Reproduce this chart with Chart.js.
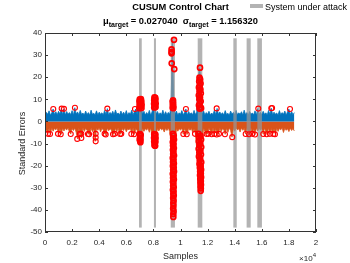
<!DOCTYPE html>
<html>
<head>
<meta charset="utf-8">
<script src="https://cdn.jsdelivr.net/npm/chart.js@4.4.1/dist/chart.umd.min.js"></script>
<style>
html, body { margin: 0; padding: 0; background: #fff; }
</style>
</head>
<body>
<canvas id="cusum" width="350" height="263"></canvas>
<script>
// Parametros objetivo
const muTarget = 0.027040;
const sigmaTarget = 1.156320;

// Muestras cada 100 (0 .. 18400)
const sampleStep = 100;

// CUSUM superior (envolvente)
const cusumUpper = [
    2.9, 4.1, 3.2, 4.8, 2.8, 3.9, 5.6, 3.1, 4.4, 3.0,
    4.6, 3.3, 5.8, 3.0, 5.7, 2.9, 4.5, 3.2, 4.0, 3.1,
    4.9, 2.8, 6.2, 3.3, 4.3, 3.0, 5.0, 3.2, 3.8, 2.9,
    4.7, 3.1, 4.0, 2.8, 5.1, 3.2, 3.7, 3.0, 4.8, 2.9,
    4.2, 3.3, 3.9, 2.9, 5.0, 3.1, 5.8, 2.8, 4.1, 3.2,
    4.6, 3.0, 5.2, 3.3, 3.8, 2.9, 4.7, 3.1, 4.2, 3.0,
    4.9, 2.8, 4.0, 3.2, 5.1, 3.0, 4.4, 5.6, 3.1, 8.2,
    10.4, 7.5, 3.2, 4.6, 2.9, 4.0, 3.1, 5.0, 2.8, 4.3,
    9.0, 11.0, 3.2, 4.5, 3.0, 3.9, 3.1, 5.1, 2.9, 4.4,
    3.0, 4.1, 3.2, 6.4, 36.8, 9.5, 3.1, 4.7, 2.9, 3.9,
    3.2, 4.9, 3.0, 4.0, 5.6, 2.8, 4.5, 3.3, 3.9, 3.0,
    5.0, 3.1, 4.2, 18.5, 24.3, 19.6, 3.0, 4.8, 2.9, 4.0,
    3.2, 4.6, 2.9, 3.8, 3.1, 5.1, 3.0, 5.9, 3.2, 4.3,
    3.3, 3.9, 2.9, 4.9, 3.1, 3.7, 2.8, 4.7, 3.2, 4.1,
    3.0, 5.0, 3.1, 3.9, 3.2, 4.4, 2.9, 5.1, 3.1, 4.0,
    2.9, 4.5, 3.3, 3.8, 3.0, 4.8, 2.8, 5.8, 3.1, 4.1,
    3.0, 4.6, 3.2, 3.9, 2.9, 5.0, 3.1, 6.0, 3.0, 4.2,
    3.3, 3.8, 2.9, 4.9, 3.0, 4.0, 3.2, 4.7, 2.8, 4.4,
    5.6, 3.1, 4.5, 3.0, 4.0
];

// CUSUM inferior (envolvente)
const cusumLower = [
    -3.0, -4.0, -5.6, -3.1, -5.7, -2.9, -4.4, -3.2, -3.8, -3.0,
    -5.6, -3.2, -5.8, -3.0, -4.3, -3.1, -3.9, -2.9, -4.7, -5.7,
    -3.2, -4.1, -3.0, -4.9, -7.9, -3.1, -5.6, -7.5, -2.9, -4.5,
    -3.2, -3.9, -5.7, -5.8, -3.0, -4.6, -3.3, -9.0, -3.1, -4.0,
    -2.9, -4.8, -3.2, -3.8, -5.6, -5.9, -3.0, -4.2, -3.3, -3.9,
    -5.8, -5.6, -3.1, -4.6, -2.9, -5.7, -5.6, -3.2, -4.1, -3.0,
    -4.7, -3.3, -3.8, -3.1, -5.7, -2.9, -5.8, -3.2, -4.0, -9.5,
    -10.4, -8.0, -3.0, -4.5, -3.3, -3.9, -3.1, -4.9, -2.9, -7.2,
    -10.8, -11.0, -6.5, -3.2, -4.3, -3.0, -3.8, -3.3, -4.8, -3.1,
    -4.1, -2.9, -4.6, -9.0, -36.0, -43.2, -12.0, -3.1, -4.4, -3.3,
    -3.9, -3.0, -5.7, -3.2, -4.7, -5.8, -2.9, -4.0, -3.1, -5.0,
    -3.3, -5.6, -12.5, -20.0, -27.5, -31.6, -10.0, -3.0, -4.5, -5.7,
    -5.6, -3.1, -4.2, -5.8, -2.9, -5.7, -3.2, -5.9, -5.6, -3.0,
    -4.6, -3.3, -3.8, -5.8, -3.1, -4.9, -2.9, -4.1, -7.1, -3.2,
    -4.4, -3.0, -3.7, -3.3, -4.8, -2.9, -4.0, -3.1, -5.7, -3.2,
    -4.5, -5.8, -3.0, -5.6, -3.3, -5.9, -2.9, -4.3, -3.1, -3.9,
    -3.2, -5.7, -3.0, -4.7, -5.8, -2.9, -5.6, -3.1, -5.7, -3.3,
    -5.8, -3.0, -4.5, -3.2, -3.8, -2.9, -5.0, -3.1, -4.0, -3.3,
    -4.6, -3.0, -4.1, -3.2, -4.3
];

// Puntos fuera de control (fuera de los ataques)
const alarmUpX = [610, 1230, 1400, 2210, 4600, 6640, 10400, 12670, 15740, 16700, 16760, 18080];
const alarmUpY = [5.6, 5.8, 5.7, 6.2, 5.8, 5.6, 5.6, 5.9, 5.8, 6.0, 6.1, 5.6];
const alarmLowX = [221, 369, 960, 1160, 1900, 2380, 2580, 2680, 2680, 3170, 3250, 3740, 3740, 3740,
    4400, 4480, 5020, 5140, 5540, 5630, 6370, 6570, 10210, 10460, 11070, 11930, 12050, 12300,
    12500, 12670, 12840, 13280, 13820, 14810, 15060, 15300, 15500, 16110, 16360, 16600, 16850, 16970];
const alarmLowY = [-5.6, -5.7, -5.6, -5.8, -5.7, -7.9, -5.6, -5.6, -7.5, -5.7, -5.8, -5.6, -7.3, -9.0,
    -5.6, -5.9, -5.8, -5.6, -5.7, -5.6, -5.7, -5.8, -5.7, -5.8, -5.6, -5.7, -5.6, -5.8,
    -5.7, -5.9, -5.6, -5.8, -7.1, -5.7, -5.8, -5.6, -5.9, -5.7, -5.8, -5.6, -5.7, -5.8];

// Puntos fuera de control durante los ataques
const attackUpX = [
    6960, 7120, 7040, 6980, 7130, 7060, 6970, 7110, 7030, 7080, 6990,
    8060, 8160, 8100, 8050, 8170, 8110, 8060, 8150, 8100, 8080, 8140,
    9520, 9340, 9340, 9340, 9350, 9540, 9420, 9470, 9430, 9460, 9420, 9450, 9470,
    11440, 11400, 11450, 11380, 11480, 11420, 11360, 11470, 11400, 11500, 11350, 11440, 11390,
    11490, 11420, 11360, 11470, 11400, 11520
];
const attackUpY = [
    6.0, 6.1, 6.8, 7.5, 7.6, 8.3, 9.0, 9.1, 9.6, 10.1, 10.0,
    6.3, 6.5, 7.2, 8.0, 8.1, 8.9, 9.6, 9.8, 10.5, 10.9, 10.7,
    36.9, 32.6, 31.5, 30.8, 26.3, 23.7, 6.2, 6.9, 7.6, 8.3, 9.0, 9.5, 6.0,
    24.3, 19.8, 19.0, 18.1, 17.2, 16.3, 15.4, 14.5, 13.6, 12.7, 11.8, 10.9, 10.0,
    9.1, 8.2, 7.3, 6.4, 5.8, 6.0
];
const attackLowX = [
    7000, 7040, 7010, 7050, 7020, 7040, 7060, 6990,
    8060, 8150, 8100, 8050, 8160, 8110, 8060, 8150, 8100, 8080, 8130,
    9440, 9500, 9460, 9520, 9430, 9490, 9450, 9510, 9440, 9480, 9460, 9520, 9430, 9490, 9450, 9510,
    9440, 9500, 9460, 9520, 9430, 9490, 9450, 9510, 9440, 9480, 9460, 9500, 9440, 9490, 9470, 9500,
    9460, 9490, 9470, 9480, 9460, 9490, 9470, 9470,
    11330, 11480, 11380, 11520, 11350, 11460, 11400, 11530, 11340, 11470, 11390, 11510, 11360, 11450,
    11420, 11530, 11400, 11490, 11430, 11520, 11450, 11500, 11440, 11520, 11460, 11500, 11470, 11510,
    11480, 11500, 11490
];
const attackLowY = [
    -5.7, -6.5, -7.3, -8.0, -8.7, -9.4, -6.0, -8.2,
    -5.7, -5.9, -6.6, -7.4, -7.5, -8.3, -9.1, -9.2, -10.0, -10.8, -11.0,
    -5.6, -6.4, -7.5, -8.2, -9.3, -10.1, -10.9, -12.0, -12.8, -13.6, -14.7, -15.4, -16.5, -17.2, -18.3, -19.0,
    -20.1, -20.8, -21.9, -22.6, -23.7, -24.4, -25.5, -26.2, -27.3, -28.0, -29.1, -29.8, -30.9, -31.6, -32.7, -33.5,
    -34.6, -35.8, -36.9, -38.1, -39.4, -40.6, -41.9, -43.2,
    -5.6, -6.5, -7.3, -8.2, -9.0, -9.9, -10.7, -11.6, -12.4, -13.3, -14.1, -15.0, -15.8, -16.7,
    -17.5, -18.4, -19.2, -20.1, -20.9, -21.8, -22.6, -23.5, -24.3, -25.2, -26.0, -26.9, -27.7, -28.6,
    -29.4, -30.3, -31.4
];

// Intervalos con el sistema bajo ataque
const attackStart = [6940, 8040, 9280, 11270, 13900, 14880, 15670];
const attackEnd = [7140, 8190, 9590, 11610, 14150, 15180, 16010];
const attackBottom = -48;
const attackTop = 37.6;

// Utilidades
const fam = "'Liberation Sans', Arial, sans-serif";
const toPoints = (xs, ys) => xs.map((x, i) => ({ x: x, y: ys[i] }));
const seriesPoints = (ys) => ys.map((y, i) => ({ x: i * sampleStep, y: y }));

const alarmStyle = {
    showLine: false,
    pointStyle: 'circle',
    pointRadius: 2.5,
    pointBorderWidth: 1.1,
    pointBorderColor: '#ff0000',
    pointBackgroundColor: 'rgba(0,0,0,0)'
};
const attackAlarmStyle = Object.assign({}, alarmStyle, { pointBorderWidth: 1.7 });

// Barras de ataque, marco, textos
const decor = {
    id: 'decor',
    afterDatasetDraw(chart, args) {
        if (args.index !== 4) return;
        const { ctx, chartArea: a, scales: { x, y } } = chart;
        ctx.save();
        ctx.beginPath();
        ctx.rect(a.left, a.top, a.right - a.left, a.bottom - a.top);
        ctx.clip();
        ctx.fillStyle = 'rgba(150,150,150,0.72)';
        const yt = y.getPixelForValue(attackTop);
        const yb = y.getPixelForValue(attackBottom);
        attackStart.forEach((s, i) => {
            const x0 = x.getPixelForValue(s);
            const x1 = x.getPixelForValue(attackEnd[i]);
            ctx.fillRect(x0, yt, x1 - x0, yb - yt);
        });
        ctx.restore();
    },
    afterDraw(chart) {
        const { ctx, chartArea: a, scales: { x, y } } = chart;
        const cx = (a.left + a.right) / 2;
        ctx.save();

        // marco y ticks hacia adentro
        ctx.strokeStyle = '#333333';
        ctx.lineWidth = 1;
        ctx.strokeRect(a.left + 0.5, a.top + 0.5, a.right - a.left - 1, a.bottom - a.top - 1);
        ctx.beginPath();
        x.ticks.forEach(t => {
            const px = Math.round(x.getPixelForValue(t.value)) + 0.5;
            ctx.moveTo(px, a.bottom); ctx.lineTo(px, a.bottom - 3);
            ctx.moveTo(px, a.top); ctx.lineTo(px, a.top + 3);
        });
        y.ticks.forEach(t => {
            const py = Math.round(y.getPixelForValue(t.value)) + 0.5;
            ctx.moveTo(a.left, py); ctx.lineTo(a.left + 3, py);
            ctx.moveTo(a.right, py); ctx.lineTo(a.right - 3, py);
        });
        ctx.stroke();

        // titulo
        ctx.fillStyle = '#000';
        ctx.textBaseline = 'alphabetic';
        ctx.textAlign = 'center';
        ctx.font = 'bold 9.3px ' + fam;
        ctx.fillText('CUSUM Control Chart', cx, 10);

        // subtitulo con subindices
        const big = 'bold 9.3px ' + fam;
        const small = 'bold 7px ' + fam;
        const parts = [
            { t: 'μ', f: big, dy: 0 },
            { t: 'target', f: small, dy: 3 },
            { t: ' = ' + muTarget.toFixed(6) + '  ', f: big, dy: 0 },
            { t: 'σ', f: big, dy: 0 },
            { t: 'target', f: small, dy: 3 },
            { t: ' = ' + sigmaTarget.toFixed(6), f: big, dy: 0 }
        ];
        let total = 0;
        parts.forEach(p => { ctx.font = p.f; p.w = ctx.measureText(p.t).width; total += p.w; });
        let sx = cx - total / 2;
        ctx.textAlign = 'left';
        parts.forEach(p => {
            ctx.font = p.f;
            ctx.fillText(p.t, sx, 23.5 + p.dy);
            sx += p.w;
        });

        // leyenda
        ctx.fillStyle = '#b3b3b3';
        ctx.fillRect(250, 4, 13, 4);
        ctx.fillStyle = '#000';
        ctx.font = '9px ' + fam;
        ctx.fillText('System under attack', 265, 9.5);

        // etiquetas de ejes
        ctx.fillStyle = '#262626';
        ctx.textAlign = 'center';
        ctx.font = '9px ' + fam;
        ctx.fillText('Samples', cx, 259);
        ctx.save();
        ctx.translate(25, 143.5);
        ctx.rotate(-Math.PI / 2);
        ctx.fillText('Standard Errors', 0, 0);
        ctx.restore();

        // exponente del eje x
        ctx.textAlign = 'right';
        ctx.font = '6px ' + fam;
        const w4 = ctx.measureText('4').width;
        ctx.fillText('4', a.right, 256.5);
        ctx.font = '8px ' + fam;
        ctx.fillText('\u00d710', a.right - w4, 260.5);

        ctx.restore();
    }
};

const ctxCusum = document.getElementById('cusum');

new Chart(ctxCusum, {
    type: 'scatter',
    data: {
        datasets: [
            Object.assign({ label: 'Upper alarms', data: toPoints(alarmUpX, alarmUpY) }, alarmStyle),
            Object.assign({ label: 'Lower alarms', data: toPoints(alarmLowX, alarmLowY) }, alarmStyle),
            Object.assign({ label: 'Attack upper alarms', data: toPoints(attackUpX, attackUpY) }, attackAlarmStyle),
            Object.assign({ label: 'Attack lower alarms', data: toPoints(attackLowX, attackLowY) }, attackAlarmStyle),
            {
                label: 'Upper CUSUM',
                data: seriesPoints(cusumUpper),
                showLine: true,
                pointRadius: 0,
                borderWidth: 0.8,
                borderColor: '#0072bd',
                backgroundColor: '#0072bd',
                fill: 'origin'
            },
            {
                label: 'Lower CUSUM',
                data: seriesPoints(cusumLower),
                showLine: true,
                pointRadius: 0,
                borderWidth: 0.8,
                borderColor: '#d95319',
                backgroundColor: '#d95319',
                fill: 'origin'
            }
        ]
    },
    options: {
        responsive: false,
        animation: false,
        devicePixelRatio: 1,
        layout: {
            padding: { left: 0, top: 33, right: 34, bottom: 0 }
        },
        plugins: {
            legend: { display: false },
            tooltip: { enabled: false },
            title: { display: false },
            filler: { propagate: false }
        },
        scales: {
            x: {
                type: 'linear',
                min: 0,
                max: 20000,
                grid: { display: false, drawTicks: false },
                border: { display: false },
                ticks: {
                    stepSize: 2000,
                    autoSkip: false,
                    maxRotation: 0,
                    padding: 6,
                    color: '#262626',
                    font: { family: fam, size: 8 },
                    callback: v => String(Math.round(v / 1000) / 10)
                },
                afterFit: s => { s.height = 31; }
            },
            y: {
                min: -50,
                max: 40,
                grid: { display: false, drawTicks: false },
                border: { display: false },
                ticks: {
                    stepSize: 10,
                    padding: 3,
                    color: '#262626',
                    font: { family: fam, size: 8 }
                },
                afterFit: s => { s.width = 45; }
            }
        }
    },
    plugins: [decor]
});
</script>
</body>
</html>
